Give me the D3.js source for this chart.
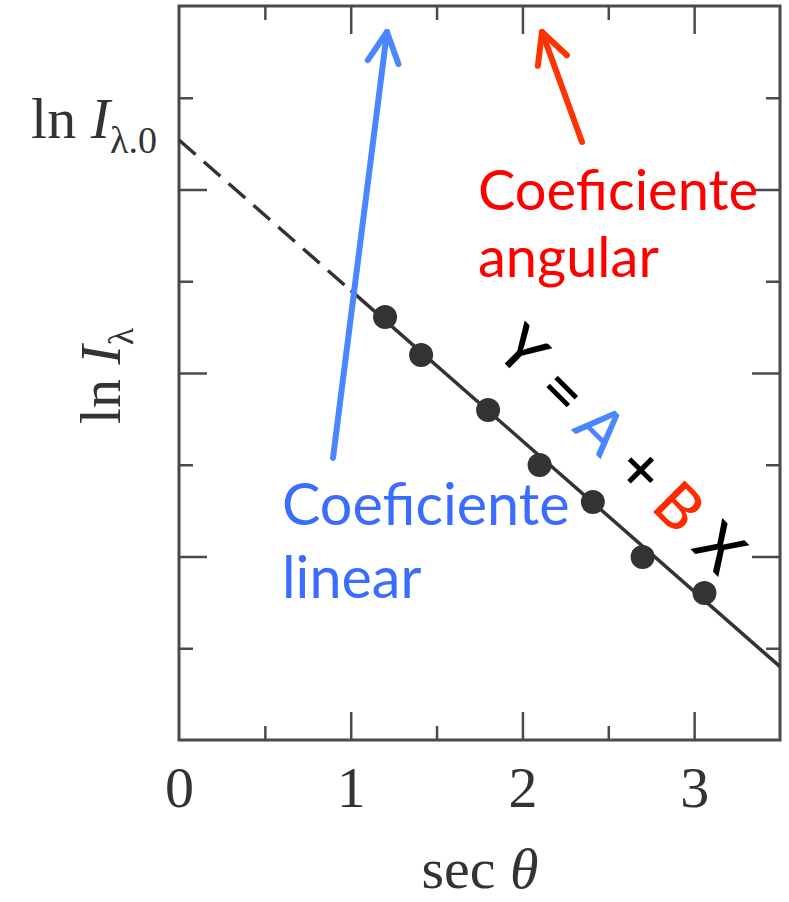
<!DOCTYPE html>
<html>
<head>
<meta charset="utf-8">
<script src="https://cdn.jsdelivr.net/npm/d3@7"></script>
<style>
  html, body { margin: 0; padding: 0; background: #fff; }
  svg { display: block; }
</style>
</head>
<body>
<script>
// Measured points: ln I_lambda against sec(theta)
const secTheta = [1.20, 1.41, 1.80, 2.10, 2.41, 2.70, 3.06];
const lnI      = [2.305, 2.098, 1.798, 1.499, 1.297, 0.997, 0.801];

// Straight-line fit  Y = A + B X
const fitA = 3.27;
const fitB = -0.82;
const dashedRange = [0, 1.0];   // extrapolation back to sec(theta) = 0
const solidRange  = [1.0, 3.5];

// Axis ticks
const xLabelTicks = [0, 1, 2, 3];
const xMajorTicks = [1, 2, 3];
const xMinorTicks = [0.5, 1.5, 2.5];
const yMajorTicks = [1, 2, 3];
const yMinorTicks = [0.5, 1.5, 2.5, 3.5];

// Annotation anchors, in data units
const eqTokens  = ["Y", "=", "A", "+", "B", "X"];
const eqColors  = ["#000", "#000", "#4a86ff", "#000", "#ff2a00", "#000"];
const eqOffsets = [0, 57, 111, 168, 221, 279];
const eqAnchor  = [2.003, 2.125];
const blueArrow = [[0.897, 1.537], [1.211, 3.858]];
const redArrow  = [[2.347, 3.259], [2.114, 3.858]];
const blueLabel = ["Coeficiente", "linear"];
const redLabel  = ["Coeficiente", "angular"];
const blueLabelAt = [0.600, 1.172];
const redLabelAt  = [1.741, 2.888];

const W = 789, H = 902;
const x = d3.scaleLinear().domain([0, 3.5]).range([179, 780]);
const y = d3.scaleLinear().domain([0, 4]).range([740, 6]);

const svg = d3.select("body").append("svg").attr("width", W).attr("height", H);

const axisColor = "#4a4a4a";
const serif = "'Liberation Serif', 'Times New Roman', serif";
const sans = "Lato, 'Open Sans', sans-serif";

function styleTicks(g) {
  g.select(".domain").remove();
  g.selectAll(".tick line").attr("stroke", axisColor).attr("stroke-width", 2.5);
}

// inward ticks on all four sides
const sides = [
  { make: d3.axisBottom, scale: x, t: `translate(0,${y(0)})` },
  { make: d3.axisTop,    scale: x, t: `translate(0,${y(4)})` },
  { make: d3.axisLeft,   scale: y, t: `translate(${x(0)},0)` },
  { make: d3.axisRight,  scale: y, t: `translate(${x(3.5)},0)` }
];
sides.forEach(s => {
  const isX = s.scale === x;
  const major = isX ? xMajorTicks : yMajorTicks;
  const minor = isX ? xMinorTicks : yMinorTicks;
  svg.append("g").attr("transform", s.t)
    .call(s.make(s.scale).tickValues(major).tickSize(-28).tickFormat(""))
    .call(styleTicks);
  svg.append("g").attr("transform", s.t)
    .call(s.make(s.scale).tickValues(minor).tickSize(-14).tickFormat(""))
    .call(styleTicks);
});

// frame
svg.append("rect")
  .attr("x", x(0)).attr("y", y(4))
  .attr("width", x(3.5) - x(0)).attr("height", y(0) - y(4))
  .attr("fill", "none").attr("stroke", axisColor).attr("stroke-width", 3);

// x tick labels
svg.append("g").attr("transform", `translate(0,${y(0)})`)
  .call(d3.axisBottom(x).tickValues(xLabelTicks).tickSize(0).tickPadding(26).tickFormat(d3.format("d")))
  .call(g => g.select(".domain").remove())
  .call(g => g.selectAll("text")
    .attr("font-family", serif).attr("font-size", 58).attr("fill", "#333"));

// x axis title
svg.append("text")
  .attr("x", 480).attr("y", 888)
  .attr("text-anchor", "middle")
  .attr("font-family", serif).attr("font-size", 58).attr("fill", "#333")
  .call(t => {
    t.append("tspan").text("sec ");
    t.append("tspan").attr("font-style", "italic").text("θ");
  });

// y axis title, rotated
const yTitle = svg.append("text")
  .attr("transform", `translate(120,${y(2) + 3}) rotate(-90)`)
  .attr("text-anchor", "middle")
  .attr("font-family", serif).attr("font-size", 58).attr("fill", "#333");
yTitle.append("tspan").text("ln ");
yTitle.append("tspan").attr("font-style", "italic").text("I");
yTitle.append("tspan").attr("font-size", 36).attr("dy", 13).text("λ");

// intercept label on the left, at y = A
const iLabel = svg.append("text")
  .attr("x", 157).attr("y", y(fitA) - 2)
  .attr("text-anchor", "end")
  .attr("font-family", serif).attr("font-size", 58).attr("fill", "#333");
iLabel.append("tspan").text("ln ");
iLabel.append("tspan").attr("font-style", "italic").text("I");
iLabel.append("tspan").attr("font-size", 38).attr("dy", 15).text("λ.0");

// fitted line: dashed extrapolation + solid fit
const fit = v => fitA + fitB * v;
const line = d3.line().x(d => x(d)).y(d => y(fit(d)));
svg.append("path").attr("d", line(dashedRange))
  .attr("fill", "none").attr("stroke", "#333").attr("stroke-width", 3.5)
  .attr("stroke-dasharray", "22,11");
svg.append("path").attr("d", line(solidRange))
  .attr("fill", "none").attr("stroke", "#333").attr("stroke-width", 3.5);

// data points
svg.append("g").selectAll("circle")
  .data(secTheta.map((v, i) => [v, lnI[i]]))
  .join("circle")
  .attr("cx", d => x(d[0])).attr("cy", d => y(d[1]))
  .attr("r", 12).attr("fill", "#333");

// arrows with open chevron heads
function arrow(pts, color) {
  const [p0, p1] = pts.map(p => [x(p[0]), y(p[1])]);
  const ang = Math.atan2(p0[1] - p1[1], p0[0] - p1[0]);
  const len = 34, spread = 27 * Math.PI / 180;
  const g = svg.append("g").attr("stroke", color).attr("stroke-width", 6)
    .attr("stroke-linecap", "round").attr("fill", "none");
  g.append("line").attr("x1", p0[0]).attr("y1", p0[1]).attr("x2", p1[0]).attr("y2", p1[1]);
  [-1, 1].forEach(s => {
    g.append("line").attr("x1", p1[0]).attr("y1", p1[1])
      .attr("x2", p1[0] + len * Math.cos(ang + s * spread))
      .attr("y2", p1[1] + len * Math.sin(ang + s * spread));
  });
}
arrow(blueArrow, "#4a86ff");
arrow(redArrow, "#ff3300");

// two-line annotation labels
function label(lines, at, color, lh, size) {
  const t = svg.append("text")
    .attr("font-family", sans).attr("font-size", size).attr("fill", color);
  lines.forEach((s, i) => {
    t.append("tspan").attr("x", x(at[0])).attr("y", y(at[1]) + i * lh).text(s);
  });
}
label(blueLabel, blueLabelAt, "#3a6dff", 73, 57.5);
label(redLabel, redLabelAt, "#ff0000", 67, 56);

// equation written along the fit
const eq = svg.append("g")
  .attr("transform", `translate(${x(eqAnchor[0])},${y(eqAnchor[1])}) rotate(45)`);
eq.selectAll("text").data(eqTokens).join("text")
  .attr("x", (d, i) => eqOffsets[i])
  .attr("y", 0).attr("dy", "0.36em")
  .attr("text-anchor", "middle")
  .attr("font-family", sans).attr("font-size", d => (d === "=" || d === "+") ? 66 : 62)
  .attr("font-weight", 500)
  .attr("fill", (d, i) => eqColors[i])
  .text(d => d);
</script>
</body>
</html>
